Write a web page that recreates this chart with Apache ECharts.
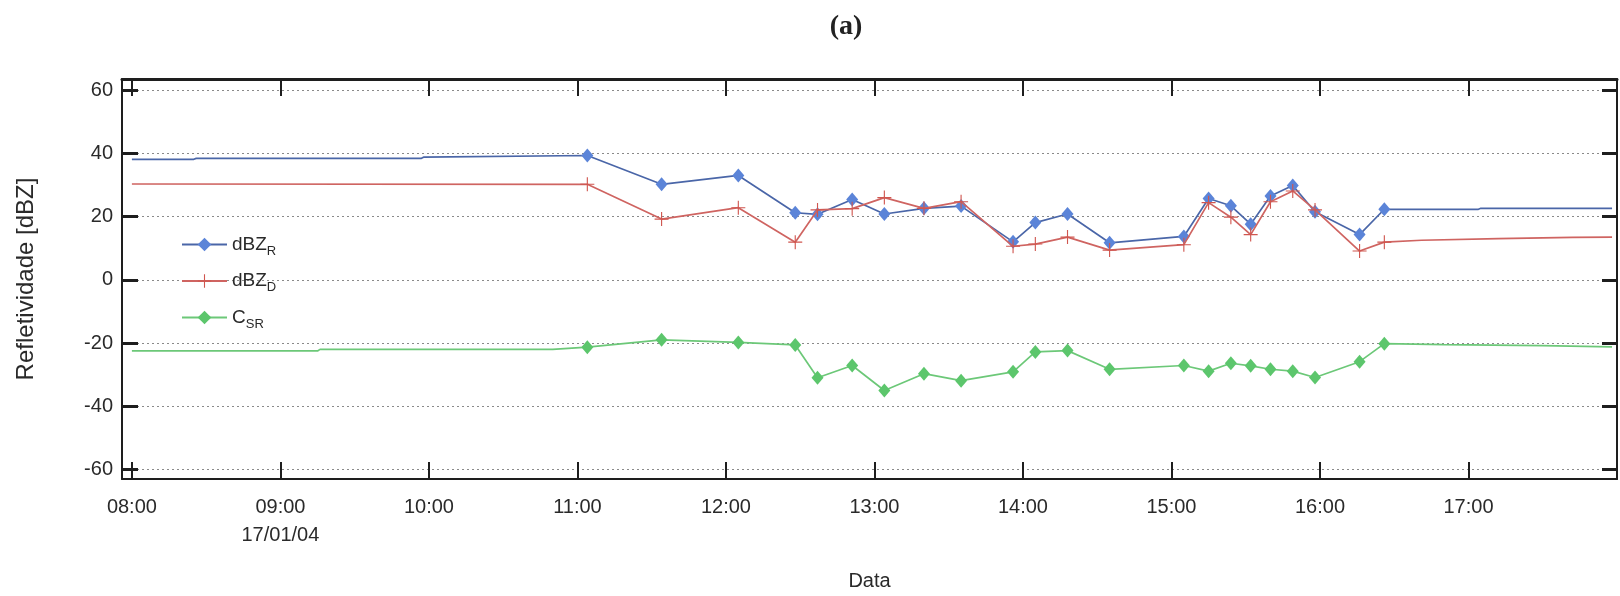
<!DOCTYPE html>
<html><head><meta charset="utf-8">
<script src="https://cdn.jsdelivr.net/npm/echarts@6/dist/echarts.min.js"></script>
<style>html,body{margin:0;padding:0;background:#fff}#c{width:1620px;height:596px}</style>
</head><body><div id="c"></div>
<script>
// ---- data ----
const times = ['11:04','11:34','12:05','12:28','12:37','12:51','13:04','13:20','13:35','13:56','14:05','14:18','14:35','15:05','15:15','15:24','15:32','15:40','15:49','15:58','16:16','16:26'];
const dbzR  = [39.3, 30.2, 33.0, 21.2, 20.7, 25.4, 20.8, 22.6, 23.3, 12.0, 18.1, 20.8, 11.7, 13.7, 25.7, 23.4, 17.6, 26.5, 29.8, 21.5, 14.3, 22.3];
const dbzD  = [30.2, 19.2, 22.8, 11.9, 22.1, 22.5, 26.0, 22.6, 24.7, 10.6, 11.3, 13.5,  9.4, 11.1, 24.4, 19.8, 14.3, 24.7, 28.1, 22.1,  9.1, 11.9];
const csr   = [-21.3,-19.0,-19.8,-20.6,-31.0,-27.1,-35.0,-29.7,-31.9,-29.1,-22.8,-22.4,-28.3,-27.1,-28.9,-26.4,-27.2,-28.3,-28.9,-30.9,-25.9,-20.2];
// unmarked flat stretches before / after the measured points
const dbzRLead = [['08:00',38.1],['08:25',38.1],['08:26',38.4],['09:57',38.4],['09:58',38.8]];
const dbzRTail = [['17:04',22.3],['17:05',22.6],['17:58',22.6]];
const dbzDLead = [['08:00',30.3]];
const dbzDTail = [['16:41',12.5],['17:12',13.0],['17:42',13.4],['17:58',13.5]];
const csrLead  = [['08:00',-22.5],['09:15',-22.5],['09:16',-22.0],['10:50',-22.0]];
const csrTail  = [['16:50',-20.5],['17:30',-20.8],['17:58',-21.2]];
// axes
const xTicks = ['08:00','09:00','10:00','11:00','12:00','13:00','14:00','15:00','16:00','17:00'];
const xRange = ['07:56','18:00'];
const dateTick = '09:00';
const dateLabel = '17/01/04';
const yTicks = [-60,-40,-20,0,20,40,60];
const yRange = [-63, 63.5];
const seriesNames = ['dBZR','dBZD','CSR'];
const legendLabels = {dBZR:['dBZ','R'], dBZD:['dBZ','D'], CSR:['C','SR']};

// ---- build ----
function toMin(s){const p=s.split(':');return (+p[0])*60+(+p[1]);}
function fmt(m){const h=Math.floor(m/60),mm=m%60;return (h<10?'0':'')+h+':'+(mm<10?'0':'')+mm;}
function pts(lead,t,v,tail){
  return [].concat(
    lead.map(p=>({value:[toMin(p[0]),p[1]],symbol:'none'})),
    t.map((s,i)=>[toMin(s),v[i]]),
    tail.map(p=>({value:[toMin(p[0]),p[1]],symbol:'none'}))
  );
}
const xTickVals = xTicks.map(toMin);
const crossPath = 'path://M9.2,0h1.6v20h-1.6z M0,9.2h20v1.6h-20z';
const font = 'Liberation Sans, Arial, sans-serif';
const axisCol = '#1e1e1e';
const txtCol = '#2a2a2a';

const chart = echarts.init(document.getElementById('c'), null, {renderer:'canvas'});
chart.setOption({
  animation:false,
  backgroundColor:'#fff',
  title:{text:'(a)', left:841, top:8, textAlign:'center',
    textStyle:{fontFamily:'Liberation Serif, Times New Roman, serif', fontWeight:'bold', fontSize:28, color:'#222'}},
  grid:{left:122, right:3, top:79, bottom:112, containLabel:false},
  legend:{
    orient:'vertical', left:176, top:230, itemWidth:45, itemHeight:17, itemGap:14,
    data:seriesNames,
    formatter:n=>'{m|'+legendLabels[n][0]+'}{s|'+legendLabels[n][1]+'}',
    textStyle:{fontFamily:font, color:txtCol,
      rich:{ m:{fontFamily:font, fontSize:19, color:txtCol, lineHeight:26, verticalAlign:'middle'},
             s:{fontFamily:font, fontSize:13, color:txtCol, lineHeight:15, verticalAlign:'bottom'} }}
  },
  xAxis:[{
    type:'value', min:toMin(xRange[0]), max:toMin(xRange[1]), position:'bottom',
    name:'Data', nameLocation:'middle', nameGap:92,
    nameTextStyle:{fontFamily:font, fontSize:20, color:txtCol},
    axisLine:{show:true, onZero:false, lineStyle:{color:axisCol, width:2}},
    axisTick:{show:true, inside:true, length:17, lineStyle:{color:axisCol, width:2}, customValues:xTickVals},
    axisLabel:{show:true, customValues:xTickVals, margin:14, fontFamily:font, fontSize:20, color:txtCol, lineHeight:28,
      formatter:v=>fmt(v)+(v===toMin(dateTick)?'\n'+dateLabel:'')},
    splitLine:{show:false}
  },{
    type:'value', min:toMin(xRange[0]), max:toMin(xRange[1]), position:'top',
    axisLine:{show:true, onZero:false, lineStyle:{color:axisCol, width:3}},
    axisTick:{show:true, inside:true, length:17, lineStyle:{color:axisCol, width:2}, customValues:xTickVals},
    axisLabel:{show:false}, splitLine:{show:false}
  }],
  yAxis:[{
    type:'value', min:yRange[0], max:yRange[1], position:'left',
    name:'Refletividade [dBZ]', nameLocation:'middle', nameGap:84, nameRotate:90,
    nameTextStyle:{fontFamily:font, fontSize:24, color:txtCol},
    axisLine:{show:true, onZero:false, lineStyle:{color:axisCol, width:2}},
    axisTick:{show:true, inside:true, length:16, lineStyle:{color:axisCol, width:3}, customValues:yTicks},
    axisLabel:{show:true, customValues:yTicks, margin:9, fontFamily:font, fontSize:20, color:txtCol},
    splitLine:{show:true, lineStyle:{color:'#8a8a8a', width:1, type:[2,3]}}
  },{
    type:'value', min:yRange[0], max:yRange[1], position:'right',
    axisLine:{show:true, onZero:false, lineStyle:{color:axisCol, width:2}},
    axisTick:{show:true, inside:true, length:15, lineStyle:{color:axisCol, width:3}, customValues:yTicks},
    axisLabel:{show:false}, splitLine:{show:false}
  }],
  series:[
    {name:'dBZR', type:'line', xAxisIndex:0, yAxisIndex:0, showAllSymbol:true,
     symbol:'diamond', symbolSize:[12,14],
     itemStyle:{color:'#5b84d8'}, lineStyle:{color:'#4a66a8', width:1.7},
     data:pts(dbzRLead,times,dbzR,dbzRTail), z:3},
    {name:'dBZD', type:'line', xAxisIndex:0, yAxisIndex:0, showAllSymbol:true,
     symbol:crossPath, symbolSize:14,
     itemStyle:{color:'#d0564f'}, lineStyle:{color:'#cf6461', width:1.7},
     data:pts(dbzDLead,times,dbzD,dbzDTail), z:4},
    {name:'CSR', type:'line', xAxisIndex:0, yAxisIndex:0, showAllSymbol:true,
     symbol:'diamond', symbolSize:[12,14],
     itemStyle:{color:'#5cc66c'}, lineStyle:{color:'#6cc878', width:1.7},
     data:pts(csrLead,times,csr,csrTail), z:3}
  ]
});
</script></body></html>
